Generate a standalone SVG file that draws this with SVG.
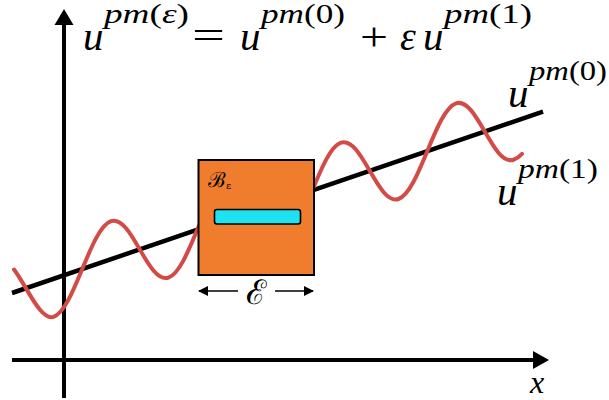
<svg xmlns="http://www.w3.org/2000/svg" width="609" height="400" viewBox="0 0 609 400">
<style>
.ax{stroke:#000;stroke-width:4;fill:none}
.ah{fill:#000}
.thin{stroke:#000;stroke-width:1.3;fill:none}
</style>
<defs>
<marker id="arr" viewBox="0 0 10 10" refX="9" refY="5" markerWidth="10" markerHeight="10" markerUnits="userSpaceOnUse" orient="auto">
<path d="M0,0 L10,5 L0,10 z" fill="#000"/>
</marker>
</defs>
<rect width="609" height="400" fill="#fff"/>
<g id="connectors">
<g id="y-axis"><line class="ax" x1="64" y1="398" x2="64" y2="20"/><polygon class="ah" points="64,9 54.5,25 73.5,25"/></g>
<g id="x-axis"><line class="ax" x1="12" y1="360" x2="538" y2="360"/><polygon class="ah" points="549,360 533,351 533,369"/></g>
<line id="u0-line" x1="12" y1="293" x2="543" y2="111.7" stroke="#000" stroke-width="4.5"/>
<path id="u1-wave" transform="matrix(1,-0.3415,0,1,0,297.1)" vector-effect="non-scaling-stroke" fill="none" stroke="#d24b47" stroke-width="4" stroke-linecap="round"
 d="M14,-22.8 C26.8,-1.6 40.7,38 53.5,38 C74.4,38 90.1,-38 111,-38 S147.6,38 168.5,38 S205.1,-38 226,-38 S262.6,38 283.5,38 S320.1,-38 341,-38 S377.6,38 398.5,38 S435.1,-38 456,-38 S492.6,38 513.5,38 C516.3,38 519.5,36.8 522,35"/>
<line class="thin" x1="238" y1="291" x2="199" y2="291" marker-end="url(#arr)"/>
<line class="thin" x1="275" y1="291" x2="313" y2="291" marker-end="url(#arr)"/>
</g>
<g id="cell">
<rect x="198.5" y="160" width="115.5" height="115" fill="#f07d2e" stroke="#000" stroke-width="2"/>
<rect x="214.5" y="209.5" width="86" height="14.5" rx="2.5" fill="#1ee2f0" stroke="#000" stroke-width="1.6"/>
<text x="208" y="187" font-family="DejaVu Serif, serif" font-size="21" fill="#000">ℬ<tspan font-size="10" dy="2">ε</tspan></text>
</g>
<g id="eps-label"><text x="256" y="304" text-anchor="middle" font-family="DejaVu Serif, serif" font-size="34" fill="#000">ℰ</text></g>
<g font-family="'Liberation Serif', 'Times New Roman', serif" fill="#000">
<g id="formula">
<text font-style="italic" font-size="41" x="83" y="50">u</text>
<text font-size="27" x="104" y="23" textLength="85" lengthAdjust="spacingAndGlyphs"><tspan font-style="italic">pm</tspan>(<tspan font-style="italic">ε</tspan>)</text>
<text font-size="40" x="192" y="49" textLength="33" lengthAdjust="spacingAndGlyphs">=</text>
<text font-style="italic" font-size="41" x="240" y="50">u</text>
<text font-size="27" x="261" y="23" textLength="84" lengthAdjust="spacingAndGlyphs"><tspan font-style="italic">pm</tspan>(0)</text>
<text font-size="40" x="360" y="50" textLength="28" lengthAdjust="spacingAndGlyphs">+</text>
<text font-style="italic" font-size="40" x="400" y="50">ε</text>
<text font-style="italic" font-size="41" x="423" y="50">u</text>
<text font-size="27" x="444" y="23" textLength="88" lengthAdjust="spacingAndGlyphs"><tspan font-style="italic">pm</tspan>(1)</text>
</g>
<g id="label-u0">
<text font-style="italic" font-size="41" x="508" y="107">u</text>
<text font-size="27" x="529" y="80" textLength="78" lengthAdjust="spacingAndGlyphs"><tspan font-style="italic">pm</tspan>(0)</text>
</g>
<g id="label-u1">
<text font-style="italic" font-size="41" x="497" y="205">u</text>
<text font-size="27" x="518" y="178" textLength="80" lengthAdjust="spacingAndGlyphs"><tspan font-style="italic">pm</tspan>(1)</text>
</g>
<g id="label-x"><text font-style="italic" font-size="32" x="530" y="393">x</text></g>
</g>
</svg>
